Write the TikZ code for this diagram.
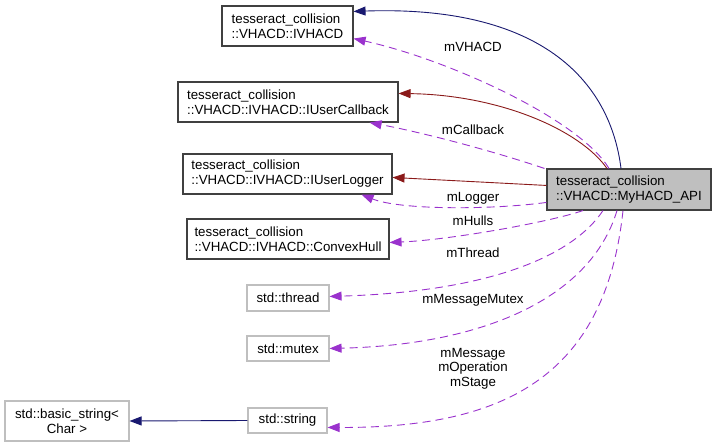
\documentclass[tikz,border=0pt]{standalone}
\usepackage{fontspec}
\setmainfont{Liberation Sans}
\usetikzlibrary{arrows.meta,calc}
\definecolor{navyc}{HTML}{191970}
\definecolor{redc}{HTML}{8B1A1A}
\definecolor{purc}{HTML}{9A32CD}
\definecolor{boxgray}{HTML}{BFBFBF}
\definecolor{boxdark}{HTML}{404040}
\begin{document}
\begin{tikzpicture}[x=1pt,y=-1pt,
  font=\fontsize{13.3}{15}\selectfont,
  cls/.style={draw=boxdark, line width=1.1pt, fill=white, align=left, inner sep=0pt},
  ext/.style={draw=boxgray, line width=1.1pt, fill=white, align=center, inner sep=0pt},
  mainbox/.style={draw=boxdark, line width=1.1pt, fill=boxgray, align=left, inner sep=0pt},
  inh/.style={line width=0.9pt, -{Triangle[length=12pt,width=9pt]}},
  mem/.style={purc, line width=0.9pt, dash pattern=on 8pt off 5pt, -{Triangle[length=12pt,width=9pt]}},
  lbl/.style={inner sep=0pt, align=center, font=\fontsize{13.3}{14.5}\selectfont}
]
\useasboundingbox (0,0) rectangle (716,447);

% nodes
\node[cls, minimum width=131pt, minimum height=40pt] (ivhacd) at (287.5,26) {tesseract\_collision\\::VHACD::IVHACD};
\node[cls, minimum width=220pt, minimum height=40pt] (cb) at (288,102) {tesseract\_collision\\::VHACD::IVHACD::IUserCallback};
\node[cls, minimum width=209pt, minimum height=40pt] (lg) at (287.5,174) {tesseract\_collision\\::VHACD::IVHACD::IUserLogger};
\node[cls, minimum width=202pt, minimum height=40pt] (ch) at (288,239) {tesseract\_collision\\::VHACD::IVHACD::ConvexHull};
\node[ext, minimum width=82pt, minimum height=26pt] (th) at (288,298) {std::thread};
\node[ext, minimum width=82pt, minimum height=25pt] (mu) at (288,348.5) {std::mutex};
\node[ext, minimum width=79pt, minimum height=25pt] (str) at (287.5,420.5) {std::string};
\node[ext, minimum width=124pt, minimum height=40pt] (bs) at (67,421) {std::basic\_string\textless\\Char \textgreater};
\node[mainbox, minimum width=164pt, minimum height=41pt] (main) at (629,189.5) {tesseract\_collision\\::VHACD::MyHACD\_API};

% inheritance edges
\draw[inh, navyc] ($(main.north)+(-8,0)$) .. controls (610,80) and (540,5) .. ($(ivhacd.north east)+(0,6)$);
\draw[inh, redc] ($(main.north)+(-22,0)$) .. controls (580,130) and (500,95) .. ($(cb.north east)+(0,12)$);
\draw[inh, redc] ($(main.north west)+(0,17)$) -- ($(lg.north east)+(0,24)$);
\draw[inh, navyc] (str.west) -- (bs.east);

% member edges
\draw[mem] ($(main.north)+(-20,0)$) .. controls (580,120) and (450,60) .. ($(ivhacd.south east)+(0,-8)$);
\draw[mem] ($(main.north west)+(-2,0)$) .. controls (490,150) and (420,132) .. ($(cb.south east)+(-29,0)$);
\draw[mem] ($(main.north west)+(0,34)$) .. controls (490,210) and (400,210) .. ($(lg.south east)+(-31,0)$);
\draw[mem] ($(main.south)+(-46,0)$) .. controls (550,222) and (450,240) .. ($(ch.north east)+(0,24)$);
\draw[mem] ($(main.south)+(-26,0)$) .. controls (570,260) and (480,292) .. ($(th.north east)+(0,12)$);
\draw[mem] ($(main.south)+(-12,0)$) .. controls (590,300) and (480,345) .. ($(mu.north east)+(0,13)$);
\draw[mem] ($(main.south)+(-6,0)$) .. controls (605,380) and (500,428) .. ($(str.north east)+(0,20)$);

% labels
\node[lbl] (l1) at (473,47) {mVHACD};
\node[lbl] (l2) at (473,130) {mCallback};
\node[lbl] (l3) at (473,198) {mLogger};
\node[lbl] (l4) at (473,221) {mHulls};
\node[lbl] (l5) at (473,253) {mThread};
\node[lbl] (l6) at (473,300) {mMessageMutex};
\node[lbl] (l7) at (473,368.5) {mMessage\\mOperation\\mStage};
\end{tikzpicture}
\end{document}
